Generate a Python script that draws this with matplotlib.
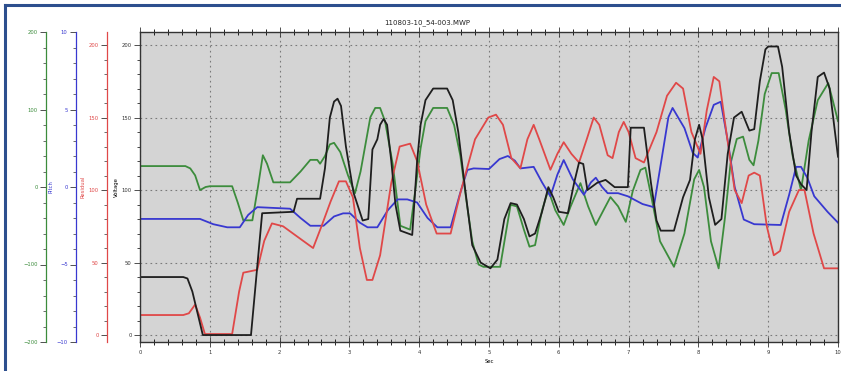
import matplotlib
matplotlib.use("Agg")
import matplotlib.pyplot as plt
from matplotlib.lines import Line2D
from matplotlib.ticker import MultipleLocator

# ---------------- data ----------------
title = "110803-10_54-003.MWP"
x_label = "Sec"

black_x = [0, 0.62, 0.68, 0.75, 0.90, 1.59, 1.75, 2.20, 2.25, 2.58, 2.65, 2.72, 2.78, 2.83, 2.88,
           2.95, 3.06, 3.19, 3.27, 3.33, 3.40, 3.44, 3.49, 3.54, 3.60, 3.66, 3.73, 3.90, 3.97, 4.02,
           4.09, 4.20, 4.40, 4.48, 4.56, 4.66, 4.76, 4.88, 5.02, 5.12, 5.22, 5.31, 5.40, 5.50, 5.58,
           5.66, 5.76, 5.85, 5.92, 6.00, 6.13, 6.22, 6.29, 6.35, 6.41, 6.55, 6.67, 6.80, 6.99, 7.03,
           7.22, 7.32, 7.40, 7.46, 7.65, 7.78, 7.88, 7.95, 8.01, 8.06, 8.15, 8.24, 8.33, 8.42, 8.51,
           8.62, 8.73, 8.80, 8.88, 8.96, 9.0, 9.14, 9.20, 9.30, 9.40, 9.47, 9.55, 9.62, 9.71, 9.80,
           9.88, 10.0]
black_y = [40, 40, 39, 30, 0, 0, 84, 85, 94, 94, 115, 150, 161, 163, 158,
           130, 98, 79, 80, 128, 135, 145, 149, 145, 120, 90, 72, 69, 120, 145,
           162, 170, 170, 162, 140, 100, 62, 50, 46, 52, 80, 91, 90, 80, 68,
           70, 85, 102, 95, 85, 84, 105, 119, 118, 100, 105, 107, 102, 102, 143,
           143, 105, 79, 72, 72, 95, 107, 135, 145, 135, 95, 76, 80, 125, 150,
           154, 141, 142, 175, 197, 199, 199, 185, 140, 110, 104, 100, 140, 178, 181,
           170, 123]

green_x = [0, 0.65, 0.72, 0.79, 0.86, 0.94, 1.0, 1.32, 1.40, 1.48, 1.61, 1.69, 1.76, 1.82, 1.91,
           2.15, 2.30, 2.44, 2.54, 2.58, 2.65, 2.72, 2.78, 2.87, 2.98, 3.08, 3.16, 3.23, 3.30, 3.37,
           3.44, 3.51, 3.62, 3.73, 3.87, 3.95, 4.02, 4.09, 4.20, 4.40, 4.50, 4.59, 4.68, 4.76, 4.85,
           4.92, 5.16, 5.24, 5.31, 5.40, 5.50, 5.58, 5.66, 5.76, 5.85, 5.95, 6.07, 6.17, 6.31, 6.42,
           6.53, 6.64, 6.74, 6.85, 6.96, 7.06, 7.17, 7.24, 7.32, 7.45, 7.65, 7.80, 7.94, 8.01, 8.08,
           8.18, 8.29, 8.38, 8.46, 8.55, 8.64, 8.73, 8.79, 8.86, 8.95, 9.05, 9.15, 9.25, 9.35, 9.47,
           9.58, 9.71, 9.86, 9.93, 10.0]
green_y = [27, 27, 24, 15, -4, 0, 1, 1, -20, -43, -43, 0, 41, 30, 6,
           6, 20, 35, 35, 30, 40, 55, 57, 45, 15, -8, 20, 55, 90, 102,
           102, 85, 30, -50, -55, 0, 50, 85, 102, 102, 80, 40, -20, -70, -100,
           -103, -103, -60, -23, -25, -55, -77, -75, -30, -4, -30, -49, -25, 5, -25,
           -49, -30, -13, -25, -45, -5, 22, 25, -10, -70, -103, -60, 10, 22, 0,
           -70, -105, -40, 30, 62, 65, 35, 28, 60, 120, 147, 147, 100, 40, -4,
           60, 112, 134, 110, 85]

blue_x = [0, 0.86, 1.05, 1.25, 1.43, 1.55, 1.68, 2.15, 2.30, 2.44, 2.63, 2.78, 2.91, 3.01, 3.15,
          3.26, 3.40, 3.55, 3.69, 3.83, 3.97, 4.12, 4.26, 4.45, 4.58, 4.69, 4.78, 5.0, 5.15, 5.27,
          5.37, 5.45, 5.64, 5.76, 5.88, 5.98, 6.07, 6.20, 6.36, 6.46, 6.53, 6.62, 6.70, 6.85, 6.99,
          7.20, 7.36, 7.48, 7.57, 7.63, 7.80, 7.92, 7.99, 8.10, 8.22, 8.32, 8.42, 8.52, 8.65, 8.80,
          9.18, 9.30, 9.40, 9.47, 9.56, 9.66, 9.85, 10.0]
blue_y = [-2.06, -2.06, -2.4, -2.6, -2.6, -1.8, -1.3, -1.4, -2.0, -2.5, -2.5, -1.9, -1.7, -1.7, -2.3,
          -2.6, -2.6, -1.5, -0.8, -0.8, -1.0, -2.0, -2.6, -2.6, -0.5, 1.1, 1.2, 1.16, 1.8, 2.0,
          1.7, 1.2, 1.3, 0.3, -0.6, 0.8, 1.74, 0.5, -0.5, 0.3, 0.6, 0.0, -0.4, -0.4, -0.6,
          -1.1, -1.3, 2.0, 4.5, 5.1, 3.8, 2.2, 1.9, 3.8, 5.3, 5.5, 3.0, 0.0, -2.1, -2.4,
          -2.45, -0.5, 1.3, 1.3, 0.6, -0.6, -1.6, -2.3]

red_x = [0, 0.62, 0.70, 0.79, 0.86, 0.93, 1.32, 1.42, 1.48, 1.68, 1.78, 1.89, 2.05, 2.25, 2.48,
         2.60, 2.73, 2.85, 2.95, 3.05, 3.15, 3.25, 3.33, 3.44, 3.60, 3.72, 3.87, 3.97, 4.10, 4.25,
         4.45, 4.60, 4.80, 4.99, 5.10, 5.20, 5.32, 5.45, 5.55, 5.64, 5.72, 5.88, 5.98, 6.07, 6.18,
         6.29, 6.40, 6.50, 6.58, 6.70, 6.77, 6.86, 6.93, 7.00, 7.10, 7.22, 7.40, 7.55, 7.68, 7.78,
         7.90, 8.03, 8.12, 8.22, 8.30, 8.40, 8.52, 8.62, 8.72, 8.80, 8.88, 8.98, 9.08, 9.17, 9.30,
         9.44, 9.52, 9.65, 9.80, 10.0]
red_y = [13.8, 13.8, 15, 21, 12, 0.7, 0.7, 30, 43, 45, 65, 77, 75, 68, 60,
         75, 92, 106, 106, 95, 60, 38, 38, 55, 105, 130, 132, 120, 90, 70,
         70, 100, 135, 150, 152, 145, 122, 115, 135, 145, 135, 114, 125, 133, 125,
         119, 135, 150, 145, 124, 122, 140, 147, 140, 122, 119, 140, 165, 174, 170,
         140, 125, 155, 178, 175, 140, 100, 91, 110, 112, 110, 75, 55, 58, 85,
         100, 100, 70, 46, 46]

main_ticks = [0, 50, 100, 150, 200]
red_ticks = [0, 50, 100, 150, 200]
blue_ticks = [-10, -5, 0, 5, 10]
green_ticks = [-200, -100, 0, 100, 200]

# ---------------- style ----------------
C_GREEN = "#3c8c3c"
C_BLUE = "#3838d0"
C_RED = "#e04848"
C_BLACK = "#1e1e1e"
FS = 3.8

W, H = 841, 371
fig = plt.figure(figsize=(W / 100, H / 100), dpi=100)
fig.patch.set_facecolor("white")

L, R, T, B = 140, 838, 32, 342
ax = fig.add_axes([L / W, 1 - B / H, (R - L) / W, (B - T) / H])
ax.set_facecolor("#d4d4d4")
ax.set_xlim(0, 10)
ax.set_ylim(-4.8, 209)

def offset_axis(pos_px, ylim, ticks, minor, color, label=None):
    a = ax.twinx()
    a.set_ylim(*ylim)
    for s in ("top", "bottom", "right"):
        a.spines[s].set_visible(False)
    a.spines["left"].set_visible(True)
    a.spines["left"].set_position(("axes", (pos_px - L) / (R - L)))
    a.spines["left"].set_color(color)
    a.spines["left"].set_linewidth(0.9)
    a.yaxis.set_ticks_position("left")
    a.yaxis.set_label_position("left")
    a.set_yticks(ticks)
    a.yaxis.set_minor_locator(MultipleLocator(minor))
    a.tick_params(axis="y", which="major", colors="#333333", labelcolor=color,
                  labelsize=FS, length=4, width=0.6, pad=2)
    a.tick_params(axis="y", which="minor", colors="#333333", length=2, width=0.5)
    if label:
        a.set_ylabel(label, color=color, fontsize=FS, labelpad=2)
    return a

ax_g = offset_axis(46, (-200, 200), green_ticks, 20, C_GREEN)
ax_b = offset_axis(76, (-10, 10), blue_ticks, 1, C_BLUE, "Pitch")
ax_r = offset_axis(107, (-4.8, 209), red_ticks, 10, C_RED, "Residual")

# main axis styling
ax.set_yticks(main_ticks)
ax.yaxis.set_minor_locator(MultipleLocator(10))
ax.set_xticks(range(0, 11))
ax.xaxis.set_minor_locator(MultipleLocator(0.2))
ax.tick_params(axis="both", which="major", labelsize=FS, length=4, width=0.6, pad=2,
               colors="#333333")
ax.tick_params(axis="y", which="minor", length=2, width=0.5)
ax.tick_params(axis="x", which="both", direction="inout", top=True)
ax.tick_params(axis="x", which="major", length=7)
ax.tick_params(axis="x", which="minor", length=5)
for s in ax.spines.values():
    s.set_color("#333333")
    s.set_linewidth(1.0)
ax.grid(True, which="major", linestyle=(0, (1.5, 3)), color="#7a7a7a", linewidth=0.8)
ax.set_ylabel("Voltage", fontsize=FS, labelpad=2)
ax.set_xlabel(x_label, fontsize=FS, labelpad=3)

# lines, all drawn in the main axes so the black trace stays on top
ax.plot(green_x, green_y, color=C_GREEN, lw=1.3, transform=ax_g.transData)
ax.plot(blue_x, blue_y, color=C_BLUE, lw=1.3, transform=ax_b.transData)
ax.plot(red_x, red_y, color=C_RED, lw=1.3, transform=ax_r.transData)
ax.plot(black_x, black_y, color=C_BLACK, lw=1.3)
ax.set_xlim(0, 10)
ax.set_ylim(-4.8, 209)

fig.text(427 / W, 1 - 23 / H, title, fontsize=5, ha="center", va="center", color="#222222")

# blue frame (top and left edges)
fig.add_artist(Line2D([5 / W, 1], [1 - 5 / H, 1 - 5 / H], color="#2d4f8e", lw=2.2,
                      transform=fig.transFigure))
fig.add_artist(Line2D([5 / W, 5 / W], [0, 1 - 5 / H], color="#2d4f8e", lw=2.2,
                      transform=fig.transFigure))

fig.savefig("out.png", dpi=100)
